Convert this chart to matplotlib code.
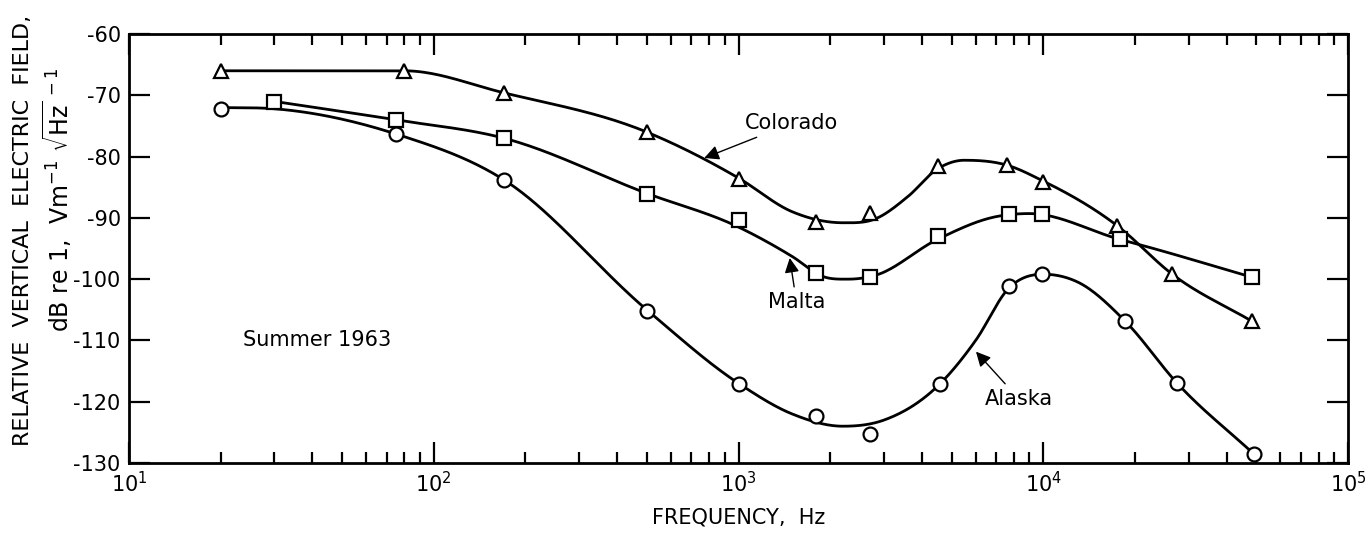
import numpy as np
import matplotlib
matplotlib.use('Agg')
import matplotlib.pyplot as plt

plt.rcParams['font.family'] = ['DejaVu Sans']
plt.rcParams['mathtext.fontset'] = 'dejavusans'
plt.rcParams['axes.unicode_minus'] = False

# measured points (Hz, dB)
colorado_f = [20, 80, 170, 500, 1000, 1800, 2700, 4500, 7600, 10000, 17500, 26500, 48500]
colorado_db = [-66, -66, -69.7, -76, -83.7, -90.6, -89.2, -81.5, -81.4, -84.2, -91.3, -99.2, -106.9]

malta_f = [30, 75, 170, 500, 1000, 1800, 2700, 4500, 7700, 9900, 17800, 48500]
malta_db = [-71.1, -74, -77, -86.1, -90.3, -99, -99.7, -92.9, -89.3, -89.4, -93.5, -99.7]

alaska_f = [20, 75, 170, 500, 1000, 1800, 2700, 4600, 7700, 9900, 18600, 27400, 49000]
alaska_db = [-72.3, -76.3, -83.8, -105.2, -117.1, -122.4, -125.2, -117.1, -101.1, -99.2, -106.9, -116.9, -128.5]

# hand-drawn fitted curves
colorado_curve_f = [20, 80, 170, 500, 1000, 1500, 2200, 2800, 3600, 4500, 5500, 7600, 10000, 17500, 26500, 48500]
colorado_curve_db = [-66, -66, -69.6, -76, -83.5, -89, -90.8, -90.2, -86.5, -82, -80.6, -81.4, -84, -91.3, -99.2, -106.9]

malta_curve_f = [30, 75, 170, 500, 1000, 1500, 1900, 2300, 2800, 4500, 7000, 9000, 17800, 21500, 48500]
malta_curve_db = [-71, -74, -77, -86, -91.5, -96.3, -99.6, -100, -99.4, -93.5, -89.8, -89.3, -93.5, -94.6, -99.7]

alaska_curve_f = [20, 30, 75, 170, 500, 1000, 1500, 2200, 3000, 4600, 6000, 7700, 10000, 13000, 18600, 27400, 49000]
alaska_curve_db = [-72, -72.2, -76.3, -83.8, -105, -117, -122, -124, -123, -117, -110, -101.5, -99.2, -100.5, -106.9, -116.9, -128.5]


def smooth(f, db, n=40):
    # cubic hermite through the traced points, in log-frequency
    x = np.log10(f)
    y = np.array(db, dtype=float)
    h = np.diff(x)
    d = np.diff(y) / h
    m = np.zeros_like(y)
    for k in range(1, len(y)-1):
        if d[k-1]*d[k] > 0:
            m[k] = (h[k]*d[k-1] + h[k-1]*d[k]) / (h[k-1] + h[k])
    m[0], m[-1] = d[0], d[-1]
    xs, ys = [], []
    t = np.linspace(0, 1, n, endpoint=False)
    for k in range(len(h)):
        h00 = 2*t**3 - 3*t**2 + 1
        h10 = t**3 - 2*t**2 + t
        h01 = -2*t**3 + 3*t**2
        h11 = t**3 - t**2
        xs.extend(x[k] + t*h[k])
        ys.extend(h00*y[k] + h10*h[k]*m[k] + h01*y[k+1] + h11*h[k]*m[k+1])
    xs.append(x[-1]); ys.append(y[-1])
    return 10**np.array(xs), np.array(ys)


fig = plt.figure(figsize=(13.69, 5.34), dpi=100)
ax = fig.add_axes([0.0942, 0.133, 0.8905, 0.8033])

for cf, cdb, mf, mdb, mk in [(colorado_curve_f, colorado_curve_db, colorado_f, colorado_db, '^'),
                             (malta_curve_f, malta_curve_db, malta_f, malta_db, 's'),
                             (alaska_curve_f, alaska_curve_db, alaska_f, alaska_db, 'o')]:
    sx, sy = smooth(cf, cdb)
    ax.plot(sx, sy, color='k', lw=2.0, zorder=2)
    ax.plot(mf, mdb, ls='none', marker=mk, ms=10, mfc='white', mec='k', mew=1.6, zorder=3)

ax.set_xscale('log')
ax.set_xlim(10, 1e5)
ax.set_ylim(-130, -60)
ax.set_yticks(np.arange(-130, -59, 10))

for s in ax.spines.values():
    s.set_linewidth(2.0)
ax.tick_params(which='both', direction='in', top=True, right=True, labelsize=15, width=1.6, pad=6)
ax.tick_params(which='major', length=15)
ax.tick_params(which='minor', length=8)

ax.set_xlabel('FREQUENCY,  Hz', fontsize=15, labelpad=8)

fig.text(23/1369, 1-230/534, 'RELATIVE  VERTICAL  ELECTRIC  FIELD,', rotation=90,
         ha='center', va='center', fontsize=16)
fig.text(57/1369, 1-200/534, r'dB re 1,  Vm$^{-1}$ $\sqrt{\mathrm{Hz}}^{\,-1}$', rotation=90,
         ha='center', va='center', fontsize=17)

ax.text(23.7, -110, 'Summer 1963', fontsize=15, va='center', ha='left')

arrow = dict(arrowstyle='-|>', color='k', lw=1.0, mutation_scale=22)
ax.annotate('Colorado', xy=(757, -80.4), xytext=(1050, -74.6), fontsize=15,
            va='center', ha='left', arrowprops=arrow)
ax.annotate('Malta', xy=(1468, -96.1), xytext=(1550, -103.8), fontsize=15,
            va='center', ha='center', arrowprops=arrow)
ax.annotate('Alaska', xy=(5930, -111.5), xytext=(8300, -119.5), fontsize=15,
            va='center', ha='center', arrowprops=arrow)

fig.savefig('out.png', dpi=100)
